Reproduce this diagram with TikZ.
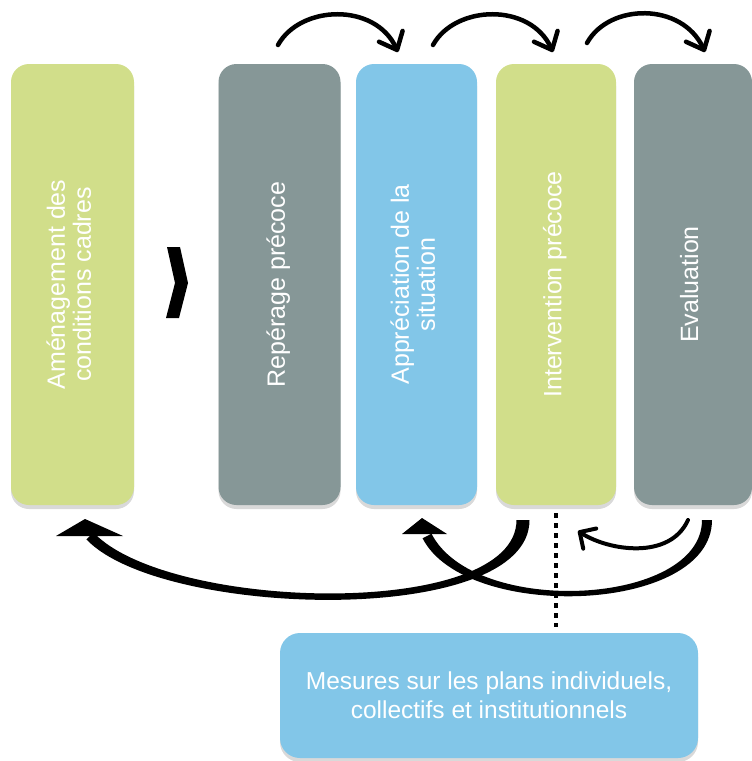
\documentclass[tikz,border=0pt]{standalone}
\usepackage{fontspec}
\setmainfont{Liberation Sans}
\usetikzlibrary{arrows.meta,shadows}
\definecolor{cgreen}{HTML}{D1DE8A}
\definecolor{cgray}{HTML}{869797}
\definecolor{cblue}{HTML}{82C6E8}
\newcommand{\vtext}[1]{\rotatebox{90}{\begin{tabular}{@{}c@{}}#1\end{tabular}}}
\tikzset{
  stagebox/.style={rectangle, rounded corners=18pt, minimum height=441pt, minimum width=122pt,
    inner sep=0pt, text=white, font=\fontsize{25}{26}\selectfont,
    drop shadow={shadow xshift=0pt, shadow yshift=-4pt, opacity=0.3}},
  notebox/.style={rectangle, rounded corners=20pt, fill=cblue, minimum width=418pt, minimum height=125pt,
    inner sep=0pt, text=white, align=center, font=\fontsize{24.5}{29}\selectfont,
    drop shadow={shadow xshift=0pt, shadow yshift=-4pt, opacity=0.3}},
  hop/.style={line width=4.5pt, line cap=round, -{Straight Barb[length=15pt,width=26pt,round]}},
  backhop/.style={line width=4pt, line cap=round, -{Straight Barb[length=12pt,width=24pt,round]}},
  brush/.style={fill=black},
  dotline/.style={line width=4.5pt, dash pattern=on 5pt off 5pt},
}
\begin{document}
\begin{tikzpicture}[x=1pt,y=-1pt]
\useasboundingbox (0,0) rectangle (752,761);

% stage boxes
\node[stagebox, fill=cgreen, minimum width=123pt] (b1) at (72.5,284.5) {\vtext{Aménagement des\\conditions cadres}};
\node[stagebox, fill=cgray] (b2) at (279.5,284.5) {\vtext{Repérage précoce}};
\node[stagebox, fill=cblue, minimum width=121pt] (b3) at (416.5,284.5) {\vtext{Appréciation de la\\situation}};
\node[stagebox, fill=cgreen, minimum width=120pt] (b4) at (556,284.5) {\vtext{Intervention précoce}};
\node[stagebox, fill=cgray, minimum width=118pt] (b5) at (693,284.5) {\vtext{Evaluation}};

% bottom box
\node[notebox] (m) at (489,695.5) {Mesures sur les plans individuels,\\collectifs et institutionnels};

% chevron
\fill (167,247) -- (180,247) -- (188,283) -- (179,318) -- (166,318) -- (175,283) -- cycle;

% top arrows
\coordinate (h1s) at (278,45); \coordinate (h1e) at (398,52);
\coordinate (h2s) at (433,45); \coordinate (h2e) at (553,52);
\coordinate (h3s) at (587,43); \coordinate (h3e) at (705,52);
\draw[hop] (h1s) .. controls (300,5) and (375,2) .. (h1e);
\draw[hop] (h2s) .. controls (455,5) and (530,2) .. (h2e);
\draw[hop] (h3s) .. controls (609,3) and (682,2) .. (h3e);

% dotted link
\draw[dotline] ([yshift=-8pt]b4.south) -- ([yshift=6pt]b4.south |- m.north);

% big arrow: intervention -> amenagement
\coordinate (r1s) at (523,520); \coordinate (r1e) at (85,519);
\fill[brush] (529.5,520) .. controls (529.5,628) and (161.4,618.4) .. (86.4,539.4)
  -- (93.6,532.6) .. controls (168.6,611.6) and (516.5,620) .. (516.5,520) -- cycle;
\fill[brush] (r1e) -- (56,536) -- (123,536) -- cycle;

% big arrow: evaluation -> appreciation
\coordinate (r2s) at (707,520); \coordinate (r2e) at (422,518);
\fill[brush] (712,520) .. controls (712,614) and (465.6,622.3) .. (422.6,538.3)
  -- (431.5,533.7) .. controls (474.5,617.7) and (702,606) .. (702,520) -- cycle;
\fill[brush] (r2e) -- (402,534) -- (447,534) -- cycle;

% small arrow: evaluation -> intervention
\coordinate (r3s) at (688,520); \coordinate (r3e) at (578,531);
\draw[backhop] (r3s) .. controls (670,560) and (609,551) .. (r3e);
\end{tikzpicture}
\end{document}
